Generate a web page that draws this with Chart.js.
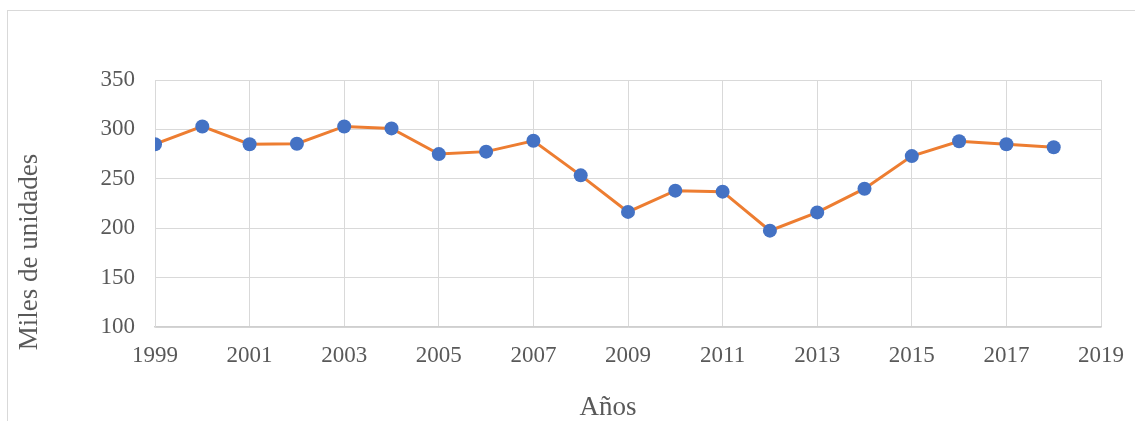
<!DOCTYPE html>
<html>
<head>
<meta charset="utf-8">
<script src="https://cdn.jsdelivr.net/npm/chart.js@4/dist/chart.umd.min.js"></script>
<style>
  html, body { margin: 0; padding: 0; background: #fff; }
  #wrap { position: relative; width: 1135px; height: 421px; overflow: hidden; }
  #frame { position: absolute; left: 7px; top: 10px; width: 1200px; height: 500px; border: 1px solid #d9d9d9; }
  #chart { position: absolute; left: 0; top: 0; }
</style>
</head>
<body>
<div id="wrap">
  <div id="frame"></div>
  <canvas id="chart" width="1135" height="421"></canvas>
</div>
<script>
// years and units (thousands)
var years = [1999, 2000, 2001, 2002, 2003, 2004, 2005, 2006, 2007, 2008,
             2009, 2010, 2011, 2012, 2013, 2014, 2015, 2016, 2017, 2018];
var units = [285, 303, 285, 285.5, 303, 301, 275, 277.5, 288.5, 253.5,
             216.5, 238, 237, 197.5, 216, 240, 273, 288, 285, 282];
var yTicks = [100, 150, 200, 250, 300, 350];
var xTicks = [1999, 2001, 2003, 2005, 2007, 2009, 2011, 2013, 2015, 2017, 2019];
var yTitle = 'Miles de unidades';
var xTitle = 'Años';

var points = years.map(function (y, i) { return { x: y, y: units[i] }; });
var tickFont = { family: 'Liberation Serif', size: 23 };
var grey = '#595959';

// axis titles sit off-centre in the original, so draw them by hand
var axisTitles = {
    id: 'axisTitles',
    afterDraw: function (chart) {
        var c = chart.ctx;
        c.save();
        c.fillStyle = grey;
        c.font = '27px "Liberation Serif"';
        c.textAlign = 'center';
        c.textBaseline = 'middle';
        c.fillText(xTitle, 608, 408);
        c.translate(30, 252);
        c.rotate(-Math.PI / 2);
        c.fillText(yTitle, 0, 0);
        c.restore();
    }
};

var ctx = document.getElementById('chart').getContext('2d');
var chart = new Chart(ctx, {
    type: 'line',
    data: {
        datasets: [{
            label: yTitle,
            data: points,
            borderColor: '#ED7D31',
            borderWidth: 3,
            backgroundColor: '#4472C4',
            pointBackgroundColor: '#4472C4',
            pointBorderColor: '#4472C4',
            pointBorderWidth: 0,
            pointRadius: 7,
            tension: 0
        }]
    },
    options: {
        responsive: false,
        animation: false,
        layout: { padding: { left: 16, right: 34, top: 80, bottom: 0 } },
        plugins: { legend: { display: false }, tooltip: { enabled: false } },
        scales: {
            x: {
                type: 'linear',
                min: xTicks[0],
                max: xTicks[xTicks.length - 1],
                afterBuildTicks: function (scale) {
                    scale.ticks = xTicks.map(function (v) { return { value: v }; });
                },
                afterFit: function (scale) {
                    scale.height = 94;
                    scale.paddingLeft = 0;
                    scale.paddingRight = 0;
                },
                grid: { color: '#d9d9d9', lineWidth: 1, drawTicks: false },
                border: { color: '#cfcfcf', width: 1.5 },
                ticks: {
                    font: tickFont, color: grey, padding: 15, maxRotation: 0,
                    callback: function (v) { return String(v); }
                }
            },
            y: {
                min: yTicks[0],
                max: yTicks[yTicks.length - 1],
                afterBuildTicks: function (scale) {
                    scale.ticks = yTicks.map(function (v) { return { value: v }; });
                },
                afterFit: function (scale) { scale.width = 139; },
                grid: { color: '#d9d9d9', lineWidth: 1, drawTicks: false },
                border: { color: '#d9d9d9', width: 1 },
                ticks: { font: tickFont, color: grey, padding: 20 }
            }
        }
    },
    plugins: [axisTitles]
});
</script>
</body>
</html>
